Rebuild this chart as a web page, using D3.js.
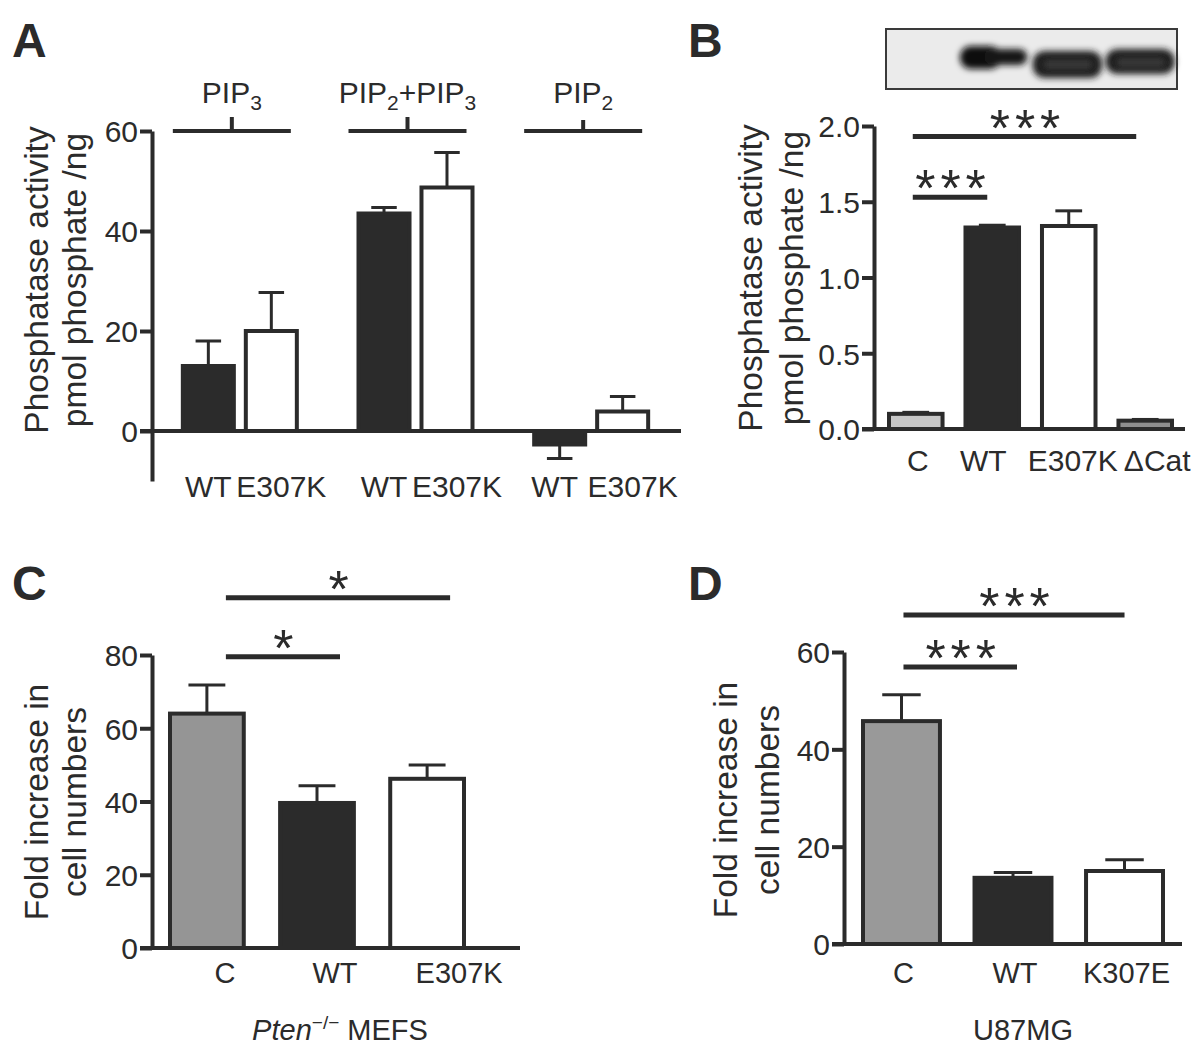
<!DOCTYPE html>
<html>
<head>
<meta charset="utf-8">
<script src="https://cdn.jsdelivr.net/npm/d3@7"></script>
<style>
  body { margin: 0; background: #fff; }
  text { font-family: "Liberation Sans", Arial, sans-serif; fill: #2b2b2b; }
</style>
</head>
<body>
<svg width="1200" height="1058"></svg>
<script>
// ---- panel A: phosphatase activity on lipid substrates
const aGroups = ["PIP3", "PIP2+PIP3", "PIP2"];
const aSeries = ["WT", "E307K"];
const aWT = [13, 43.5, -2.7];
const aWTErr = [5, 1.2, 2.8];
const aE307K = [20, 48.7, 3.9];
const aE307KErr = [7.7, 7, 3];
const aTicks = [0, 20, 40, 60];

// ---- panel B: activity with western blot on top
const bCats = ["C", "WT", "E307K", "ΔCat"];
const bValues = [0.10, 1.33, 1.34, 0.055];
const bErr = [0.01, 0.015, 0.10, 0.008];
const bTicks = [0, 0.5, 1.0, 1.5, 2.0];
const bBlot = [0, 1, 1, 1];
const bSig = [
  { a: "C", b: "WT", level: 1.53, label: "***" },
  { a: "C", b: "ΔCat", level: 1.93, label: "***" }
];

// ---- panel C: Pten-/- MEFS proliferation
const cCats = ["C", "WT", "E307K"];
const cValues = [64, 39.6, 46.2];
const cErr = [7.8, 4.7, 3.8];
const cTicks = [0, 20, 40, 60, 80];
const cSig = [
  { a: "C", b: "WT", level: 79.5, label: "*" },
  { a: "C", b: "E307K", level: 95.6, label: "*" }
];

// ---- panel D: U87MG proliferation
const dCats = ["C", "WT", "K307E"];
const dValues = [45.8, 13.6, 15.0];
const dErr = [5.4, 1.1, 2.3];
const dTicks = [0, 20, 40, 60];
const dSig = [
  { a: "C", b: "WT", level: 56.9, label: "***" },
  { a: "C", b: "K307E", level: 67.6, label: "***" }
];

const ink = "#2b2b2b";
const svg = d3.select("svg");

const yAxis = (y, ticks, fmt, x) => {
  const ax = svg.append("g")
    .attr("transform", `translate(${x},0)`)
    .call(d3.axisLeft(y).tickValues(ticks).tickFormat(fmt)
      .tickSize(12).tickSizeOuter(0).tickPadding(2));
  ax.attr("font-family", null).attr("font-size", null);
  ax.select(".domain").attr("stroke", ink).attr("stroke-width", 4);
  ax.selectAll(".tick line").attr("stroke", ink).attr("stroke-width", 4);
  ax.selectAll(".tick text").attr("fill", ink)
    .attr("font-size", 30).attr("dy", "0.36em");
  return ax;
};

const baseline = (y, x0, x1) => svg.append("line")
  .attr("x1", x0).attr("x2", x1).attr("y1", y(0)).attr("y2", y(0))
  .attr("stroke", ink).attr("stroke-width", 4);

const bar = (cx, bw, y, v, err, fill) => {
  svg.append("rect")
    .attr("x", cx - bw / 2).attr("width", bw)
    .attr("y", y(Math.max(0, v))).attr("height", Math.abs(y(v) - y(0)))
    .attr("fill", fill).attr("stroke", ink).attr("stroke-width", 4);
  const e = v < 0 ? v - err : v + err;
  svg.append("line").attr("x1", cx).attr("x2", cx)
    .attr("y1", y(v)).attr("y2", y(e)).attr("stroke", ink).attr("stroke-width", 3);
  svg.append("line").attr("x1", cx - bw / 4).attr("x2", cx + bw / 4)
    .attr("y1", y(e)).attr("y2", y(e)).attr("stroke", ink).attr("stroke-width", 3);
};

const yTitle = (lines, xs, cy) => lines.forEach((t, i) => {
  svg.append("text")
    .attr("transform", `translate(${xs[i]},${cy}) rotate(-90)`)
    .attr("text-anchor", "middle").attr("font-size", 33.5).text(t);
});

const panelLetter = (t, x, y) => svg.append("text")
  .attr("x", x).attr("y", y).attr("font-size", 48).attr("font-weight", "bold").text(t);

// comparison bars; off holds the small x nudges of each line end
const sigBars = (sig, x, y, off) => sig.forEach((s, i) => {
  const x1 = x(s.a) + x.bandwidth() / 2 + off[i][0];
  const x2 = x(s.b) + x.bandwidth() / 2 + off[i][1];
  svg.append("line").attr("x1", x1).attr("x2", x2)
    .attr("y1", y(s.level)).attr("y2", y(s.level))
    .attr("stroke", ink).attr("stroke-width", 5);
  svg.append("text")
    .attr("x", (x1 + x2) / 2 + 3).attr("y", y(s.level) + 9)
    .attr("text-anchor", "middle").attr("font-size", 52)
    .attr("letter-spacing", 5).text(s.label);
});

// ================= Panel A =================
panelLetter("A", 12, 57);
const yA = d3.scaleLinear().domain([-10, 60]).range([481, 131]);
const xA = d3.scaleBand().domain(aGroups).range([152, 679]);
const xAi = d3.scaleBand().domain(aSeries).range([-57, 57]).paddingInner(0.19);

yAxis(yA, aTicks, d3.format("d"), 152);
baseline(yA, 140, 681);

aGroups.forEach((g, i) => {
  const gc = xA(g) + xA.bandwidth() / 2;
  const vals = [[aWT[i], aWTErr[i], ink], [aE307K[i], aE307KErr[i], "#fff"]];
  aSeries.forEach((s, j) => {
    bar(gc + xAi(s) + xAi.bandwidth() / 2, xAi.bandwidth(), yA, vals[j][0], vals[j][1], vals[j][2]);
  });
  // substrate bracket
  const bc = gc - 8;
  svg.append("line").attr("x1", bc - 59).attr("x2", bc + 59)
    .attr("y1", yA(60)).attr("y2", yA(60)).attr("stroke", ink).attr("stroke-width", 4);
  svg.append("line").attr("x1", bc).attr("x2", bc)
    .attr("y1", yA(60)).attr("y2", yA(60) - (i === 2 ? 11 : 14))
    .attr("stroke", ink).attr("stroke-width", 4);
  // x labels
  svg.append("text").attr("font-size", 30)
    .attr("x", gc + xAi("WT") + xAi.bandwidth() / 2 - (i === 2 ? 5 : 0)).attr("y", 497)
    .attr("text-anchor", "middle").text("WT");
  svg.append("text").attr("font-size", 30)
    .attr("x", gc + xAi("E307K") + xAi.bandwidth() / 2 + 10).attr("y", 497)
    .attr("text-anchor", "middle").text("E307K");
});

// substrate names with subscripts
const subLabel = (parts, cx) => {
  const t = svg.append("text").attr("font-size", 30)
    .attr("x", cx).attr("y", 103).attr("text-anchor", "middle");
  parts.forEach((p, k) => {
    t.append("tspan").attr("dy", k ? -7 : 0).text(p[0]);
    t.append("tspan").attr("font-size", 21).attr("dy", 7).text(p[1]);
  });
};
const labParts = [[["PIP", "3"]], [["PIP", "2"], ["+PIP", "3"]], [["PIP", "2"]]];
aGroups.forEach((g, i) => subLabel(labParts[i], xA(g) + xA.bandwidth() / 2 - 8));

yTitle(["Phosphatase activity", "pmol phosphate /ng"], [48, 86], 280);

// ================= Panel B =================
panelLetter("B", 688, 57);
const yB = d3.scaleLinear().domain([0, 2]).range([429, 126]);
const xB = d3.scaleBand().domain(bCats).range([889, 1172]).paddingInner(0.3);

// blot
const blotX = d3.scaleBand().domain(bCats).range([886, 1177]).paddingInner(0.06).paddingOuter(0.03);
const defs = svg.append("defs");
defs.append("filter").attr("id", "blur").attr("x", "-20%").attr("y", "-60%")
  .attr("width", "140%").attr("height", "220%")
  .append("feGaussianBlur").attr("stdDeviation", 3.2);
svg.append("rect").attr("x", 886).attr("y", 29).attr("width", 291).attr("height", 60)
  .attr("fill", "#ebebeb").attr("stroke", "#3a3a3a").attr("stroke-width", 2);
bCats.forEach((c, i) => {
  if (!bBlot[i]) return;
  const x0 = blotX(c), w = blotX.bandwidth();
  const g = svg.append("g").attr("filter", "url(#blur)").attr("opacity", bBlot[i]);
  if (i === 1) {
    g.append("rect").attr("x", x0 - 1).attr("y", 46).attr("width", w * 0.6).attr("height", 23)
      .attr("rx", 11).attr("fill", "#111");
    g.append("rect").attr("x", x0 + w * 0.35).attr("y", 49).attr("width", w * 0.62).attr("height", 16)
      .attr("rx", 8).attr("fill", "#181818");
  } else {
    const top = i === 2 ? 51 : 49;
    g.append("rect").attr("x", x0 - 1).attr("y", top).attr("width", w + 1)
      .attr("height", i === 2 ? 27 : 25).attr("rx", 12).attr("fill", "#1a1a1a");
    g.append("rect").attr("x", x0 + 10).attr("y", top + 9).attr("width", w - 20)
      .attr("height", 9).attr("rx", 4).attr("fill", "#383838");
  }
});

yAxis(yB, bTicks, d3.format(".1f"), 874);
baseline(yB, 862, 1185);
const bFill = ["#c6c6c6", ink, "#fff", "#8e8e8e"];
bCats.forEach((c, i) => bar(xB(c) + xB.bandwidth() / 2, xB.bandwidth(), yB, bValues[i], bErr[i], bFill[i]));
sigBars(bSig, xB, yB, [[-3, -5], [-3, -9]]);
const bLabelShift = [2, -9, 4, 12];
bCats.forEach((c, i) => svg.append("text").attr("font-size", 30)
  .attr("x", xB(c) + xB.bandwidth() / 2 + bLabelShift[i]).attr("y", 471)
  .attr("text-anchor", "middle").text(c));
yTitle(["Phosphatase activity", "pmol phosphate /ng"], [762, 803], 278);

// ================= Panel C =================
panelLetter("C", 12, 600);
const yC = d3.scaleLinear().domain([0, 80]).range([948, 655]);
const xC = d3.scaleBand().domain(cCats).range([170, 464]).paddingInner(0.33);
yAxis(yC, cTicks, d3.format("d"), 152);
baseline(yC, 140, 520);
const cFill = ["#959595", ink, "#fff"];
cCats.forEach((c, i) => bar(xC(c) + xC.bandwidth() / 2, xC.bandwidth(), yC, cValues[i], cErr[i], cFill[i]));
sigBars(cSig, xC, yC, [[19, 23], [19, 23]]);
const cLabelShift = [18, 18, 32];
cCats.forEach((c, i) => svg.append("text").attr("font-size", 29)
  .attr("x", xC(c) + xC.bandwidth() / 2 + cLabelShift[i]).attr("y", 983)
  .attr("text-anchor", "middle").text(c));
const cSub = svg.append("text").attr("font-size", 29).attr("x", 340).attr("y", 1040)
  .attr("text-anchor", "middle");
cSub.append("tspan").attr("font-style", "italic").text("Pten");
cSub.append("tspan").attr("font-size", 19).attr("dy", -11).text("−/−");
cSub.append("tspan").attr("dy", 11).text(" MEFS");
yTitle(["Fold increase in", "cell numbers"], [48, 86], 802);

// ================= Panel D =================
panelLetter("D", 688, 600);
const yD = d3.scaleLinear().domain([0, 60]).range([944, 652]);
const xD = d3.scaleBand().domain(dCats).range([863, 1163]).paddingInner(0.31);
yAxis(yD, dTicks, d3.format("d"), 844);
baseline(yD, 832, 1182);
const dFill = ["#999999", ink, "#fff"];
dCats.forEach((c, i) => bar(xD(c) + xD.bandwidth() / 2, xD.bandwidth(), yD, dValues[i], dErr[i], dFill[i]));
sigBars(dSig, xD, yD, [[2, 4], [2, 0]]);
dCats.forEach(c => svg.append("text").attr("font-size", 29)
  .attr("x", xD(c) + xD.bandwidth() / 2 + 2).attr("y", 983)
  .attr("text-anchor", "middle").text(c));
svg.append("text").attr("font-size", 29).attr("x", 1023).attr("y", 1040)
  .attr("text-anchor", "middle").text("U87MG");
yTitle(["Fold increase in", "cell numbers"], [737, 779], 800);
</script>
</body>
</html>
